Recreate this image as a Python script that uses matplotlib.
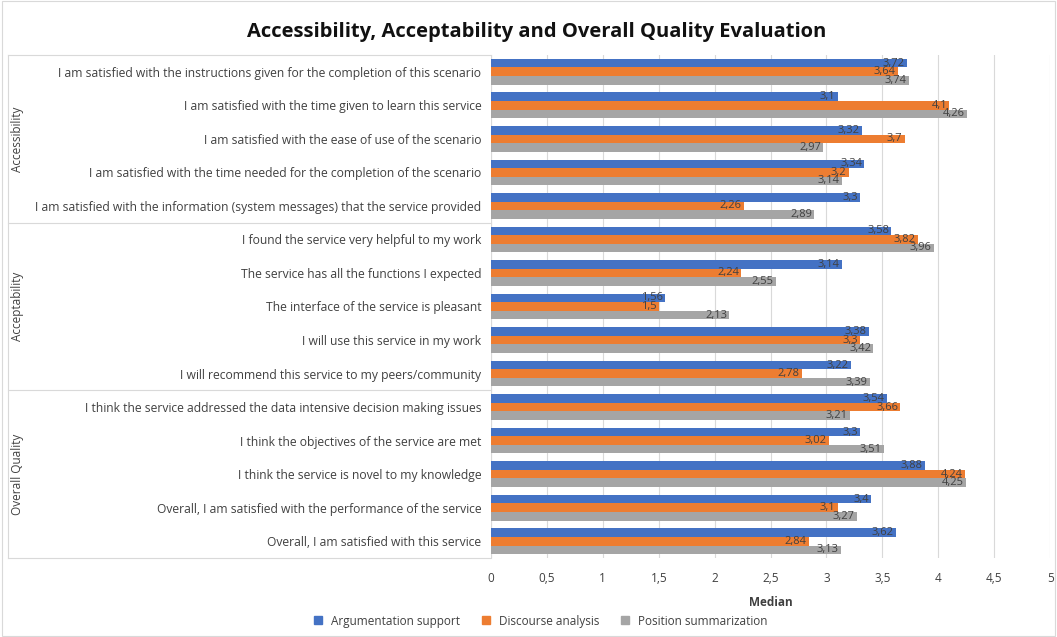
import matplotlib
matplotlib.use("Agg")
import matplotlib.pyplot as plt
from matplotlib.lines import Line2D
import numpy as np

categories = [
    "I am satisfied with the instructions given for the completion of this scenario",
    "I am satisfied with the time given to learn this service",
    "I am satisfied with the ease of use of the scenario",
    "I am satisfied with the time needed for the completion of the scenario",
    "I am satisfied with the information (system messages) that the service provided",
    "I found the service very helpful to my work",
    "The service has all the functions I expected",
    "The interface of the service is pleasant",
    "I will use this service in my work",
    "I will recommend this service to my peers/community",
    "I think the service addressed the data intensive decision making issues",
    "I think the objectives of the service are met",
    "I think the service is novel to my knowledge",
    "Overall, I am satisfied with the performance of the service",
    "Overall, I am satisfied with this service",
]
groups = ["Accessibility", "Acceptability", "Overall Quality"]
group_sizes = [5, 5, 5]

series_names = ["Argumentation support", "Discourse analysis", "Position summarization"]
argumentation = [3.72, 3.1, 3.32, 3.34, 3.3, 3.58, 3.14, 1.56, 3.38, 3.22, 3.54, 3.3, 3.88, 3.4, 3.62]
discourse = [3.64, 4.1, 3.7, 3.2, 2.26, 3.82, 2.24, 1.5, 3.3, 2.78, 3.66, 3.02, 4.24, 3.1, 2.84]
position = [3.74, 4.26, 2.97, 3.14, 2.89, 3.96, 2.55, 2.13, 3.42, 3.39, 3.21, 3.51, 4.25, 3.27, 3.13]
xticks = [0, 0.5, 1, 1.5, 2, 2.5, 3, 3.5, 4, 4.5, 5]

colors = ["#4472C4", "#ED7D31", "#A5A5A5"]
txt = "#404040"

fig = plt.figure(figsize=(10.57, 6.37), dpi=100)
fig.patch.set_facecolor("white")
ax = fig.add_axes([0.4645, 0.124, 0.529, 0.7897])

n = len(categories)
y = np.arange(n)
h = 0.255
offsets = [-h, 0, h]
for s, (vals, col, off) in enumerate(zip([argumentation, discourse, position], colors, offsets)):
    ax.barh(y + off, vals, height=h, color=col, zorder=3)
    for yy, v in zip(y + off, vals):
        ax.text(v - 0.02, yy, f"{v:g}".replace(".", ","), ha="right", va="center",
                fontsize=8, color=txt, zorder=4, family="Open Sans")

ax.set_ylim(n - 0.5, -0.5)
ax.set_xlim(0, 5)
ax.set_xticks(xticks)
ax.set_xticklabels([f"{t:g}".replace(".", ",") for t in xticks], fontsize=8.5, color=txt, family="Open Sans")
ax.set_yticks(y)
ax.set_yticklabels(categories, fontsize=8.7, color=txt, family="Open Sans")
ax.tick_params(axis="both", length=0)
ax.tick_params(axis="x", pad=10)
ax.tick_params(axis="y", pad=7)
ax.grid(axis="x", color="#D9D9D9", linewidth=0.8, zorder=0)
for sp in ax.spines.values():
    sp.set_visible(False)
ax.axvline(0, color="#D9D9D9", linewidth=0.8, zorder=2)
ax.set_xlabel("Median", fontsize=8.5, fontweight="bold", color=txt, family="Open Sans", labelpad=3)
ax.xaxis.set_label_coords(0.5, -0.075)

# group separators and labels
x_left = (8 - 491) / (1050 - 491) * 5
bounds = np.cumsum([0] + group_sizes)
for b in bounds:
    ax.plot([x_left, 0], [b - 0.5, b - 0.5], color="#D9D9D9", linewidth=0.8, clip_on=False)
ax.plot([x_left, x_left], [-0.5, n - 0.5], color="#D9D9D9", linewidth=0.8, clip_on=False)
x_grp = (18 - 491) / (1050 - 491) * 5
for g, s0, s1 in zip(groups, bounds[:-1], bounds[1:]):
    ax.text(x_grp, (s0 + s1 - 1) / 2, g, rotation=90, ha="center", va="center",
            fontsize=8.5, color=txt, family="Open Sans", clip_on=False)

fig.suptitle("Accessibility, Acceptability and Overall Quality Evaluation", x=0.508, y=0.965,
             fontsize=14.5, fontweight="bold", color="#111111", family="Open Sans")

handles = [Line2D([], [], marker="s", linestyle="", markersize=6, color=c) for c in colors]
fig.legend(handles, series_names, loc="center", bbox_to_anchor=(0.508, 0.025), ncol=3,
           frameon=False, prop={"family": "Open Sans", "size": 8.5}, labelcolor=txt,
           handletextpad=0.1, columnspacing=1.2)

# outer border
fig.add_artist(plt.Rectangle((0.002, 0.002), 0.996, 0.996, transform=fig.transFigure,
                             fill=False, edgecolor="#D9D9D9", linewidth=0.8))

fig.savefig("out.png", dpi=100)
